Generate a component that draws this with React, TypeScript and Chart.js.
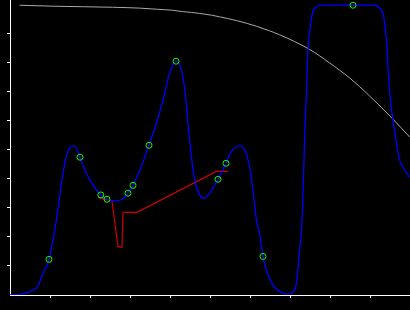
import React, { useEffect, useRef } from "react";
import { Chart, registerables } from "chart.js";

Chart.register(...registerables);

// Blue interpolating curve
const blueX = [0, 0.12, 0.49, 0.69, 0.83, 0.975, 1.075, 1.16, 1.24, 1.31, 1.41, 1.49, 1.575, 1.66, 1.75, 1.91, 2.075, 2.27, 2.425, 2.575, 2.82, 2.95, 3.075, 3.24, 3.475, 3.66, 3.825, 3.99, 4.15, 4.285, 4.37, 4.45, 4.535, 4.62, 4.74, 4.84, 4.99, 5.2, 5.4, 5.535, 5.74, 5.87, 5.99, 6.075, 6.16, 6.24, 6.325, 6.41, 6.575, 6.825, 6.93, 7.035, 7.16, 7.24, 7.285, 7.325, 7.37, 7.41, 7.45, 7.51, 7.56, 7.66, 7.785, 8.575, 9.075, 9.24, 9.34, 9.41, 9.45, 9.51, 9.575, 9.66, 9.74, 9.87, 9.99];
const blueY = [0, 0.01, 0.11, 0.29, 0.76, 1.23, 1.9, 2.59, 3.39, 4.08, 4.77, 5.07, 5.15, 5.06, 4.75, 4.2, 3.79, 3.45, 3.3, 3.24, 3.31, 3.51, 3.78, 4.28, 5.16, 5.92, 6.72, 7.64, 8.06, 7.76, 7.07, 5.92, 4.77, 3.97, 3.45, 3.33, 3.51, 3.99, 4.54, 4.94, 5.14, 5.0, 4.42, 3.62, 2.59, 2.13, 1.33, 0.86, 0.34, 0.06, 0.03, 0.06, 0.4, 1.55, 2.14, 3.51, 5.59, 6.97, 8.45, 9.25, 9.71, 9.94, 9.99, 9.99, 9.99, 9.89, 9.6, 8.79, 7.87, 6.72, 6.03, 5.23, 4.66, 4.31, 4.06];

// Green sample points
const pointX = [0.975, 1.75, 2.27, 2.425, 2.95, 3.075, 3.475, 4.15, 5.2, 5.4, 6.325, 8.575];
const pointY = [1.23, 4.75, 3.45, 3.3, 3.51, 3.78, 5.16, 8.06, 3.99, 4.54, 1.33, 9.99];

// Red segmented line
const redX = [2.2, 2.55, 2.7, 2.8, 2.825, 3.175, 5.16, 5.45];
const redY = [3.355, 3.24, 1.665, 1.645, 2.85, 2.85, 4.26, 4.26];

// Gray smooth curve
const grayX = [0.24, 1.12, 2.56, 3.24, 3.69, 4.035, 4.32, 4.535, 4.74, 5.035, 5.24, 5.44, 5.66, 5.91, 6.16, 6.49, 6.74, 7.49, 7.99, 8.49, 8.99, 9.57, 9.99];
const grayY = [9.99, 9.955, 9.92, 9.89, 9.85, 9.82, 9.77, 9.741, 9.707, 9.648, 9.59, 9.531, 9.462, 9.369, 9.266, 9.107, 8.972, 8.466, 8.0, 7.483, 6.862, 6.069, 5.448];

const xMin = 0;
const xMax = 10;
const yMin = 0;
const yMax = 10.17;

const zip = (xs: number[], ys: number[]) => xs.map((x, i) => ({ x, y: ys[i] }));

export default function App() {
  const ref = useRef<HTMLCanvasElement | null>(null);

  useEffect(() => {
    if (!ref.current) return;
    const keepInner = (axis: any) => {
      axis.ticks = axis.ticks.filter((t: any) => t.value >= 1 && t.value <= 9);
    };
    const chart = new Chart(ref.current, {
      type: "line",
      data: {
        datasets: [
          {
            data: zip(pointX, pointY),
            showLine: false,
            pointRadius: 3,
            pointBorderWidth: 1,
            pointBorderColor: "#00ff00",
            pointBackgroundColor: "rgba(0,0,0,0)",
            borderColor: "#00ff00",
          },
          {
            data: zip(blueX, blueY),
            borderColor: "#0000ff",
            borderWidth: 1.3,
            pointRadius: 0,
            cubicInterpolationMode: "monotone",
          },
          {
            data: zip(redX, redY),
            borderColor: "#d00000",
            borderWidth: 1.2,
            pointRadius: 0,
            tension: 0,
          },
          {
            data: zip(grayX, grayY),
            borderColor: "#a8a8a8",
            borderWidth: 1,
            pointRadius: 0,
            cubicInterpolationMode: "monotone",
          },
        ],
      },
      options: {
        animation: false,
        responsive: false,
        maintainAspectRatio: false,
        layout: { autoPadding: false, padding: { left: 7, right: 0, top: 0, bottom: 12 } },
        plugins: { legend: { display: false }, tooltip: { enabled: false } },
        scales: {
          x: {
            type: "linear",
            min: xMin,
            max: xMax,
            ticks: { display: false, stepSize: 1 },
            afterBuildTicks: keepInner,
            grid: { drawOnChartArea: false, tickLength: 3, tickColor: "#ffffff", color: "#ffffff" },
            border: { color: "#ffffff", width: 1 },
          },
          y: {
            type: "linear",
            min: yMin,
            max: yMax,
            ticks: { display: false, stepSize: 1 },
            afterBuildTicks: keepInner,
            grid: { drawOnChartArea: false, tickLength: 3, tickColor: "#ffffff", color: "#ffffff" },
            border: { color: "#ffffff", width: 1 },
          },
        },
      },
    });
    return () => chart.destroy();
  }, []);

  return (
    <div style={{ position: "fixed", left: 0, top: 0, width: 410, height: 310, background: "#000000" }}>
      <canvas ref={ref} width={410} height={310} style={{ display: "block", width: 410, height: 310 }} />
    </div>
  );
}
